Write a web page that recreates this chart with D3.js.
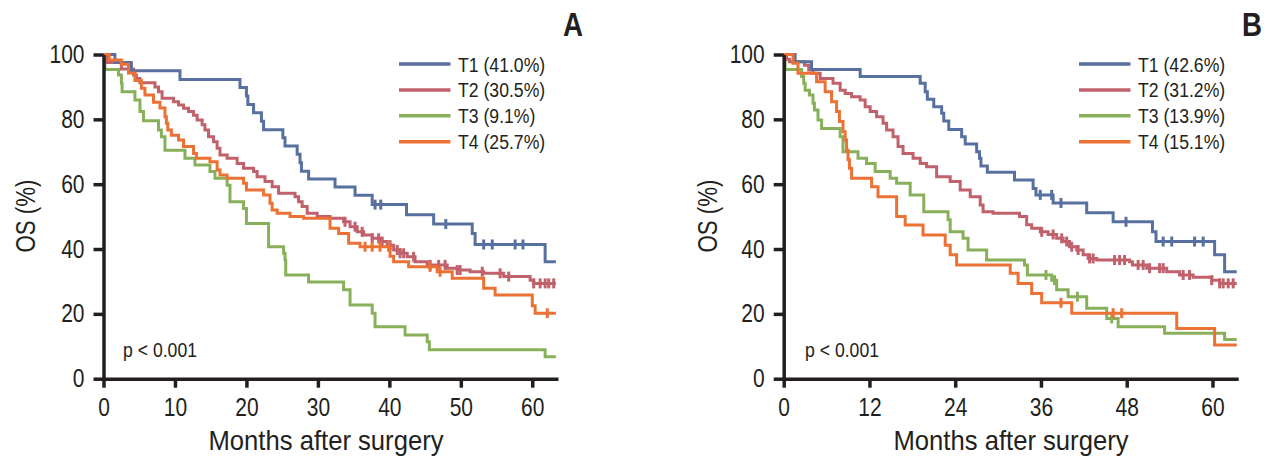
<!DOCTYPE html>
<html><head><meta charset="utf-8">
<script src="https://cdn.jsdelivr.net/npm/d3@7"></script>
<style>
body{margin:0;background:#fff}
svg{display:block}
</style>
</head><body>
<svg id="c" width="1274" height="466"></svg>
<script>
// ---------- DATA ----------
const groups = ["T1", "T2", "T3", "T4"];
const legendA = ["T1 (41.0%)", "T2 (30.5%)", "T3 (9.1%)", "T4 (25.7%)"];
const legendB = ["T1 (42.6%)", "T2 (31.2%)", "T3 (13.9%)", "T4 (15.1%)"];
const xTicksA = [0, 10, 20, 30, 40, 50, 60];
const xTicksB = [0, 12, 24, 36, 48, 60];
const yTicks = [0, 20, 40, 60, 80, 100];
const pText = "p < 0.001";

// Panel A
const aT1Time = [0, 1.6, 3.9, 10.7, 19.1, 20.0, 20.2, 21.0, 22.1, 22.4, 25.1, 25.4, 27.1, 27.5, 27.7, 28.7, 32.4, 35.2, 37.6, 42.4, 46.2, 51.6, 52.0, 61.8, 63.3];
const aT1Surv = [100, 97.5, 95.0, 92.3, 89.8, 87.2, 84.6, 82.0, 79.4, 76.8, 74.3, 71.8, 69.2, 66.6, 64.0, 61.6, 59.1, 56.6, 53.7, 50.6, 47.7, 44.8, 41.4, 36.1, 36.1];
const aT1Cens = [38.0, 38.8, 47.9, 53.2, 54.4, 57.6, 58.7];

const aT2Time = [0, 0.5, 2.5, 4.2, 4.6, 5.1, 7.2, 7.7, 8.2, 9.8, 10.5, 11.2, 11.9, 12.6, 13.1, 13.8, 14.2, 14.7, 15.4, 15.9, 16.3, 17.3, 18.7, 19.6, 21.0, 21.5, 22.6, 23.6, 24.5, 26.8, 27.3, 27.8, 28.5, 29.9, 31.7, 33.6, 34.5, 35.5, 36.4, 37.6, 38.7, 39.7, 40.6, 41.5, 42.5, 43.6, 45.3, 48.1, 49.5, 51.3, 53.2, 56.0, 59.7, 60.2, 63.3];
const aT2Surv = [100, 97.5, 95.5, 93.7, 92.6, 91.3, 90.0, 88.5, 86.5, 85.4, 84.4, 83.4, 82.4, 81.3, 79.8, 78.3, 76.7, 74.6, 73.1, 71.1, 69.0, 68.0, 66.4, 64.9, 63.9, 62.3, 60.8, 59.2, 57.2, 56.1, 54.6, 53.1, 51.0, 50.0, 49.5, 48.4, 46.9, 45.3, 44.3, 43.3, 42.3, 41.2, 39.7, 38.7, 37.6, 36.1, 35.1, 34.1, 33.5, 33.0, 32.5, 31.5, 30.4, 29.4, 29.4];
const aT2Cens = [33.8, 35.2, 36.2, 37.6, 38.5, 39.0, 40.1, 41.1, 41.5, 42.0, 43.4, 45.7, 46.9, 47.8, 49.5, 49.9, 53.0, 55.5, 56.7, 60.2, 61.1, 61.8, 62.3, 63.0];

const aT3Time = [0, 0.2, 2.1, 2.5, 2.6, 4.4, 5.1, 5.6, 7.7, 8.1, 8.6, 11.4, 12.8, 14.9, 15.6, 17.3, 17.7, 19.6, 20.0, 23.1, 25.2, 25.4, 25.5, 28.7, 33.6, 34.5, 37.6, 38.0, 42.2, 45.3, 45.6, 61.8, 63.3];
const aT3Surv = [100, 95.4, 93.7, 91.1, 88.5, 86.0, 82.4, 79.6, 76.7, 74.6, 70.5, 68.0, 65.9, 63.9, 61.8, 59.7, 54.6, 52.5, 47.9, 40.7, 38.7, 36.6, 32.0, 29.8, 27.4, 22.7, 20.2, 16.0, 13.5, 11.4, 8.9, 6.8, 6.8];
const aT3Cens = [];

const aT4Time = [0, 0.8, 2.5, 3.5, 4.4, 5.3, 5.8, 7.0, 7.9, 8.6, 8.8, 9.0, 9.5, 10.5, 11.2, 12.6, 13.0, 14.9, 15.9, 16.3, 17.3, 19.6, 20.0, 22.4, 23.3, 23.6, 24.3, 26.1, 28.0, 31.7, 32.9, 34.3, 35.9, 40.1, 40.6, 42.7, 46.7, 48.8, 53.2, 54.8, 60.0, 60.4, 63.3];
const aT4Surv = [100, 98.3, 97.0, 94.3, 92.0, 89.6, 87.5, 85.3, 83.5, 80.8, 78.8, 76.7, 75.1, 73.6, 71.6, 69.5, 68.0, 66.9, 64.4, 62.8, 61.8, 60.3, 58.2, 56.7, 54.1, 52.0, 51.0, 50.0, 49.5, 46.4, 44.8, 41.8, 40.7, 37.8, 36.1, 34.5, 33.0, 31.0, 27.9, 25.8, 22.5, 20.2, 20.2];
const aT4Cens = [36.6, 37.6, 38.7, 39.9, 45.7, 47.1, 62.1];

// Panel B
const bT1Time = [0, 1.6, 3.9, 10.7, 19.1, 19.8, 20.1, 21.0, 22.1, 22.4, 23.1, 24.9, 25.4, 27.0, 27.4, 27.6, 28.5, 32.3, 34.9, 35.3, 37.7, 42.4, 46.1, 51.6, 52.1, 60.3, 61.7, 63.4];
const bT1Surv = [100, 97.8, 95.4, 93.2, 91.1, 88.5, 86.2, 83.9, 81.9, 79.5, 76.9, 74.6, 72.4, 70.0, 68.0, 65.6, 63.7, 61.3, 58.7, 56.7, 54.2, 51.2, 48.4, 45.3, 42.3, 38.2, 33.0, 33.0];
const bT1Cens = [35.9, 37.5, 38.8, 47.9, 53.1, 54.3, 57.5, 58.7];

const bT2Time = [0, 0.4, 0.8, 2.9, 3.5, 4.1, 5.1, 6.9, 7.9, 8.6, 9.5, 10.7, 11.4, 12.1, 13.0, 13.9, 14.4, 15.3, 16.0, 16.7, 18.1, 19.1, 20.0, 21.4, 23.3, 24.7, 26.1, 27.5, 27.9, 29.3, 33.0, 34.0, 34.7, 35.9, 37.0, 38.2, 39.1, 40.0, 41.0, 41.9, 42.6, 43.8, 48.4, 48.8, 50.8, 53.6, 55.4, 57.3, 59.9, 61.0, 63.4];
const bT2Surv = [100, 98.5, 97.8, 96.7, 95.2, 94.2, 92.6, 91.1, 89.0, 88.0, 87.0, 86.0, 83.9, 82.4, 80.8, 78.8, 76.7, 74.6, 71.6, 69.5, 68.0, 66.4, 65.4, 62.3, 60.8, 58.2, 56.1, 53.6, 51.5, 51.0, 50.0, 47.5, 46.4, 45.3, 44.5, 43.3, 42.3, 40.7, 39.7, 38.2, 37.1, 36.6, 36.1, 35.1, 34.1, 33.0, 32.0, 31.3, 30.4, 29.4, 29.4];
const bT2Cens = [36.1, 37.7, 38.9, 39.6, 40.3, 41.2, 42.8, 43.3, 46.3, 47.0, 47.7, 49.6, 50.3, 51.2, 52.6, 53.1, 55.9, 56.8, 59.9, 61.0, 61.5, 62.2, 62.9];

const bT3Time = [0, 0.2, 2.5, 2.8, 3.0, 3.6, 4.1, 4.3, 4.8, 5.3, 7.9, 8.3, 10.4, 11.6, 12.8, 14.9, 15.8, 17.7, 19.6, 23.0, 23.3, 25.1, 25.8, 28.4, 33.7, 34.1, 37.5, 38.2, 39.8, 42.4, 45.2, 46.8, 53.3, 61.7, 63.4];
const bT3Surv = [100, 95.4, 93.2, 91.1, 89.0, 87.5, 85.0, 82.9, 79.8, 77.2, 74.6, 70.0, 68.0, 66.4, 63.9, 61.8, 60.3, 56.7, 51.5, 49.0, 45.3, 43.3, 39.7, 36.6, 35.1, 32.0, 30.4, 27.4, 25.3, 21.7, 18.6, 16.0, 14.0, 12.1, 12.1];
const bT3Cens = [36.7, 37.9, 41.1, 45.9];

const bT4Time = [0, 1.3, 2.0, 4.6, 5.8, 6.7, 7.4, 7.8, 8.3, 8.6, 8.8, 9.0, 9.2, 9.5, 12.3, 13.2, 15.8, 17.0, 19.5, 22.6, 23.3, 24.2, 31.7, 32.8, 34.7, 36.1, 40.3, 55.0, 60.3, 63.4];
const bT4Surv = [100, 97.3, 94.2, 91.6, 88.5, 85.4, 82.4, 79.3, 76.2, 73.6, 70.5, 67.5, 64.9, 61.8, 59.2, 56.1, 50.0, 47.4, 44.3, 41.2, 38.2, 35.1, 32.5, 29.4, 26.3, 23.4, 20.2, 15.5, 10.4, 10.4];
const bT4Cens = [38.8, 46.1, 47.3];

// ---------- STYLE ----------
const FONT = '"Liberation Sans",Arial,sans-serif';
const SX = 0.84; // horizontal condensing of the sans font
const INK = "#231f20";
const colors = { T1: "#58709f", T2: "#c0616b", T3: "#88b05b", T4: "#ec7134" };
const drawOrder = ["T3", "T2", "T1", "T4"];

const svg = d3.select("#c");

const panels = [
  { label: "A", left: 103.5, xticks: xTicksA, legend: legendA, legendX: 399, labelX: 583, titleX: 326, yTitleX: 35, pX: 123,
    series: { T1: [aT1Time, aT1Surv, aT1Cens], T2: [aT2Time, aT2Surv, aT2Cens], T3: [aT3Time, aT3Surv, aT3Cens], T4: [aT4Time, aT4Surv, aT4Cens] } },
  { label: "B", left: 783.7, xticks: xTicksB, legend: legendB, legendX: 1079, labelX: 1262, titleX: 1011, yTitleX: 717, pX: 805,
    series: { T1: [bT1Time, bT1Surv, bT1Cens], T2: [bT2Time, bT2Surv, bT2Cens], T3: [bT3Time, bT3Surv, bT3Cens], T4: [bT4Time, bT4Surv, bT4Cens] } }
];

function survAt(time, surv, t) {
  let v = surv[0];
  for (let i = 0; i < time.length; i++) { if (time[i] <= t) v = surv[i]; else break; }
  return v;
}

// condensed text placed at (x,y)
function ctext(g, x, y, str, size, anchor, extra) {
  const t = g.append("text")
    .attr("transform", `translate(${x},${y}) scale(${SX},1)`)
    .attr("text-anchor", anchor || "start")
    .attr("font-family", FONT).attr("font-size", size).attr("fill", INK)
    .text(str);
  if (extra) extra(t);
  return t;
}

panels.forEach(p => {
  const x = d3.scaleLinear().domain([0, 63.6]).range([p.left, p.left + 454.5]);
  const y = d3.scaleLinear().domain([0, 100]).range([378.7, 54.5]);
  const g = svg.append("g");

  // curves
  const line = d3.line().x(d => x(d[0])).y(d => y(d[1])).curve(d3.curveStepAfter);
  drawOrder.forEach(k => {
    const [tt, ss, cc] = p.series[k];
    const pts = tt.map((t, i) => [t, ss[i]]);
    g.append("path").datum(pts).attr("d", line).attr("fill", "none")
      .attr("stroke", colors[k]).attr("stroke-width", 3).attr("stroke-linejoin", "miter");
    g.selectAll(null).data(cc).enter().append("line")
      .attr("x1", d => x(d)).attr("x2", d => x(d))
      .attr("y1", d => y(survAt(tt, ss, d)) - 5).attr("y2", d => y(survAt(tt, ss, d)) + 5)
      .attr("stroke", colors[k]).attr("stroke-width", 3);
  });

  // axes
  const xa = g.append("g").attr("transform", `translate(0,${y(0)})`)
    .call(d3.axisBottom(x).tickValues(p.xticks).tickSize(9).tickSizeOuter(0).tickPadding(10.5));
  const ya = g.append("g").attr("transform", `translate(${x(0)},0)`)
    .call(d3.axisLeft(y).tickValues(yTicks).tickSize(10).tickSizeOuter(0).tickPadding(9));
  [xa, ya].forEach(a => {
    a.attr("font-family", FONT).attr("font-size", 25);
    a.select(".domain").attr("stroke", INK).attr("stroke-width", 3.5);
    a.selectAll(".tick line").attr("stroke", INK).attr("stroke-width", 3.5);
    a.selectAll(".tick text").attr("fill", INK).each(function () {
      const t = d3.select(this);
      const tx = +t.attr("x") || 0, ty = +t.attr("y") || 0;
      t.attr("x", null).attr("y", null).attr("transform", `translate(${tx},${ty}) scale(${SX},1)`);
    });
  });

  // axis titles
  g.append("text").attr("x", p.titleX).attr("y", 450).attr("text-anchor", "middle")
    .attr("font-family", FONT).attr("font-size", 28).attr("fill", INK)
    .attr("textLength", 235).attr("lengthAdjust", "spacingAndGlyphs")
    .text("Months after surgery");
  g.append("text").attr("transform", `translate(${p.yTitleX},216) rotate(-90)`).attr("text-anchor", "middle")
    .attr("font-family", FONT).attr("font-size", 28).attr("fill", INK)
    .attr("textLength", 73).attr("lengthAdjust", "spacingAndGlyphs")
    .text("OS (%)");

  // panel label
  ctext(g, p.labelX, 36, p.label, 33, "end", t => t.attr("font-weight", "bold"));

  // p value
  ctext(g, p.pX, 356.5, pText, 21, "start");

  // legend
  groups.forEach((k, i) => {
    const ly = 64 + i * 25.9;
    g.append("line").attr("x1", p.legendX).attr("x2", p.legendX + 51.5).attr("y1", ly).attr("y2", ly)
      .attr("stroke", colors[k]).attr("stroke-width", 3.5);
    ctext(g, p.legendX + 59, ly + 7.5, p.legend[i], 21, "start");
  });
});
</script>
</body></html>
